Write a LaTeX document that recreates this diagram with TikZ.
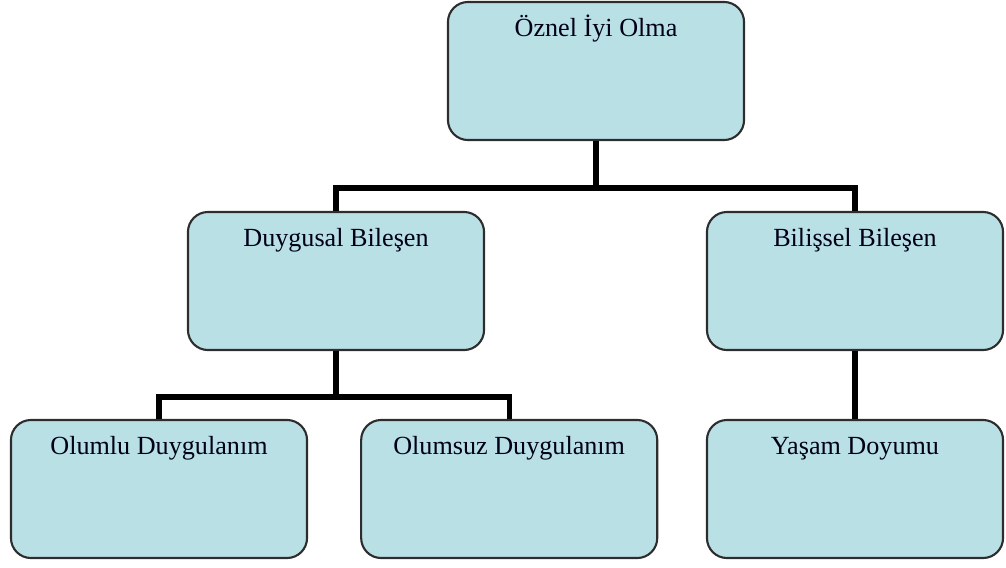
\documentclass[tikz,border=0pt]{standalone}
\usepackage{fontspec}
\setmainfont{Liberation Serif}
\usetikzlibrary{positioning}
\definecolor{boxfill}{RGB}{185,224,228}
\definecolor{boxline}{RGB}{45,45,45}

\begin{document}
\begin{tikzpicture}[
    x=0.025cm, y=-0.025cm,
    box/.style={draw=boxline, line width=1.5pt, fill=boxfill, rounded corners=0.5cm,
        minimum width=7.4cm, inner sep=0pt, text height=0.875cm, text depth=2.575cm,
        font=\fontsize{18.6}{22}\selectfont, text=black!90!blue},
    conn/.style={line width=3.6pt, black}
]
    \useasboundingbox (0,0) rectangle (1006,567);

    % Top level
    \node[box] (iyiolma) at (596,71) {Öznel İyi Olma};

    % Components
    \node[box] (duygusal) at (336,281) {Duygusal Bileşen};
    \node[box] (bilissel) at (855,281) {Bilişsel Bileşen};

    % Bottom level
    \node[box] (olumlu) at (159,489) {Olumlu Duygulanım};
    \node[box, right=1.3cm of olumlu] (olumsuz) {Olumsuz Duygulanım};
    \node[box] (yasam) at (855,489) {Yaşam Doyumu};

    % Bars
    \coordinate (bartop) at (596,188);
    \coordinate (barleft) at (336,397);

    % Connectors
    \draw[conn] (iyiolma.south) -- (bartop);
    \draw[conn] (duygusal.north) |- (bartop) -| (bilissel.north);
    \draw[conn] (duygusal.south) -- (barleft);
    \draw[conn] (olumlu.north) |- (barleft) -| (olumsuz.north);
    \draw[conn] (bilissel.south) -- (yasam.north);
\end{tikzpicture}
\end{document}
